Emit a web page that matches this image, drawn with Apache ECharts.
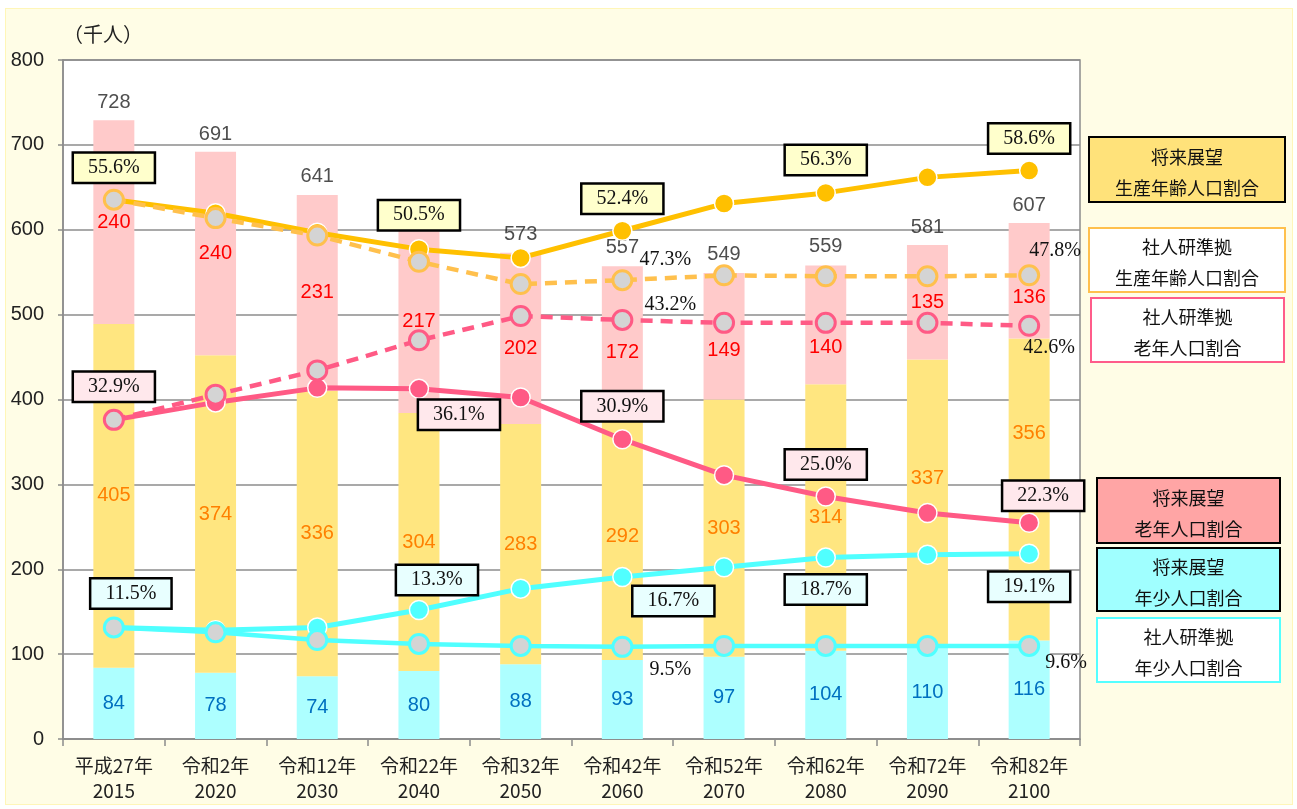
<!DOCTYPE html>
<html>
<head>
<meta charset="utf-8">
<script src="https://cdn.jsdelivr.net/npm/echarts@6/dist/echarts.min.js"></script>
<style>
html, body { margin: 0; padding: 0; background: #fff; }
#frame { position: absolute; left: 5px; top: 8px; width: 1286px; height: 795px; background: #fffde6; border: 1px solid #fff6b8; }
#main { position: absolute; left: 0; top: 0; width: 1297px; height: 809px; }
</style>
</head>
<body>
<div id="frame"></div>
<div id="main"></div>
<script>
// categories / values (千人)
var years = ['平成27年\n2015', '令和2年\n2020', '令和12年\n2030', '令和22年\n2040', '令和32年\n2050',
    '令和42年\n2060', '令和52年\n2070', '令和62年\n2080', '令和72年\n2090', '令和82年\n2100'];
var young = [84, 78, 74, 80, 88, 93, 97, 104, 110, 116];
var working = [405, 374, 336, 304, 283, 292, 303, 314, 337, 356];
var elderly = [240, 240, 231, 217, 202, 172, 149, 140, 135, 136];
var totals = [728, 691, 641, 601, 573, 557, 549, 559, 581, 607];

// ratios (%)
var workPlan = [55.6, 54.2, 52.2, 50.5, 49.6, 52.4, 55.2, 56.3, 57.9, 58.6];
var workIpss = [55.6, 53.7, 51.9, 49.2, 46.9, 47.3, 47.8, 47.7, 47.7, 47.8];
var eldPlan = [32.9, 34.7, 36.2, 36.1, 35.2, 30.9, 27.2, 25.0, 23.3, 22.3];
var eldIpss = [32.9, 35.5, 38.0, 41.1, 43.6, 43.2, 42.9, 42.9, 42.9, 42.6];
var youngPlan = [11.5, 11.2, 11.5, 13.3, 15.5, 16.7, 17.7, 18.7, 19.0, 19.1];
var youngIpss = [11.5, 11.0, 10.2, 9.8, 9.6, 9.5, 9.6, 9.6, 9.6, 9.6];

var names = ['将来展望\n生産年齢人口割合', '社人研準拠\n生産年齢人口割合', '社人研準拠\n老年人口割合',
    '将来展望\n老年人口割合', '将来展望\n年少人口割合', '社人研準拠\n年少人口割合'];

var cjk = '"Noto Sans CJK JP", sans-serif';
var serif = '"Liberation Serif", serif';
var sans = '"Liberation Sans", sans-serif';

// where the % labels sit (index -> offset from point)
var pos = {
    workPlan: {0: [0, -32], 3: [0, -34], 5: [0, -32], 7: [0, -33], 9: [0, -32]},
    eldPlan: {0: [0, -33], 3: [40, 26], 5: [0, -33], 7: [0, -32], 9: [14, -27]},
    youngPlan: {0: [17, -34], 3: [18, -30], 5: [51, 24], 7: [0, 32], 9: [0, 33]},
    workIpss: {5: [43, -20], 9: [26, -25]},
    eldIpss: {5: [48, -15], 9: [20, 22]},
    youngIpss: {5: [48, 23], 9: [37, 17]}
};
// bar labels nudged off the lines
var barShift = {
    working: {8: -24, 9: -56},
    elderly: {4: 10, 5: 13, 6: 14, 7: 23, 9: 17}
};

function pct(p) { return p.value.toFixed(1) + '%'; }

function withLabels(vals, where, boxBg) {
    return vals.map(function (v, i) {
        if (!where[i]) return v;
        var lab = {
            show: true, position: 'inside', offset: where[i], formatter: pct,
            fontFamily: serif, fontSize: 20, color: '#111'
        };
        if (boxBg) {
            lab.backgroundColor = boxBg;
            lab.borderColor = '#000';
            lab.borderWidth = 2.5;
            lab.padding = [5, 14, 3, 14];
        }
        return {value: v, label: lab};
    });
}

function planLine(name, vals, color, where, boxBg) {
    return {
        name: name, type: 'line', yAxisIndex: 1, z: 4,
        data: withLabels(vals, where, boxBg),
        symbol: 'circle', symbolSize: 19,
        lineStyle: {color: color, width: 5},
        itemStyle: {color: color, borderColor: '#fff', borderWidth: 1.5},
        label: {show: false}
    };
}

function ipssLine(name, vals, color, dashed, where) {
    return {
        name: name, type: 'line', yAxisIndex: 1, z: 5,
        data: withLabels(vals, where, null),
        symbol: 'circle', symbolSize: 19,
        lineStyle: {color: color, width: 4.5, type: dashed ? [12, 8] : 'solid'},
        itemStyle: {color: '#d4d4d4', borderColor: color, borderWidth: 3},
        label: {show: false}
    };
}

function barSeries(vals, color, labelColor, shift) {
    return {
        type: 'bar', stack: 'pop', barWidth: 41, z: 2,
        data: vals.map(function (v, i) {
            return shift && shift[i] ? {value: v, label: {offset: [0, shift[i]]}} : v;
        }),
        itemStyle: {color: color},
        label: {show: true, position: 'inside', color: labelColor, fontSize: 20, fontFamily: sans}
    };
}

// legend boxes on the right
var boxes = [
    {x: 1089, y: 137, w: 196, h: 65, fill: '#ffe27a', stroke: '#000'},
    {x: 1089, y: 228, w: 196, h: 64, fill: '#fff', stroke: '#ffc04d'},
    {x: 1091, y: 298, w: 193, h: 64, fill: '#fff', stroke: '#ff5c8a'},
    {x: 1097, y: 478, w: 183, h: 65, fill: '#ffa5a5', stroke: '#000'},
    {x: 1097, y: 548, w: 183, h: 63, fill: '#a0ffff', stroke: '#000'},
    {x: 1097, y: 618, w: 183, h: 64, fill: '#fff', stroke: '#55ffff'}
];
var legendGraphic = boxes.map(function (b, i) {
    return {
        type: 'group', x: b.x, y: b.y,
        children: [
            {type: 'rect', shape: {x: 0, y: 0, width: b.w, height: b.h},
                style: {fill: b.fill, stroke: b.stroke, lineWidth: 2}},
            {type: 'text', x: b.w / 2, y: b.h / 2 + 3,
                style: {text: names[i], align: 'center', verticalAlign: 'middle',
                    font: '18px ' + cjk, lineHeight: 31, fill: '#111'}}
        ]
    };
});

var chart = echarts.init(document.getElementById('main'));
chart.setOption({
    backgroundColor: 'transparent',
    animation: false,
    grid: {left: 63, right: 217, top: 60, bottom: 70, show: true, backgroundColor: '#fff', borderColor: '#8c8c8c', borderWidth: 1.5},
    xAxis: {
        type: 'category', data: years,
        axisLine: {lineStyle: {color: '#8c8c8c', width: 1.5}},
        axisTick: {show: true, length: 7, lineStyle: {color: '#8c8c8c', width: 1.5}},
        axisLabel: {color: '#222', fontSize: 19, fontFamily: cjk, lineHeight: 25, margin: 14}
    },
    yAxis: [{
        type: 'value', min: 0, max: 800, interval: 100,
        name: '（千人）', nameLocation: 'end', nameGap: 16,
        nameTextStyle: {color: '#222', fontSize: 20, fontFamily: cjk, align: 'left'},
        axisLine: {show: true, lineStyle: {color: '#8c8c8c', width: 1.5}},
        axisTick: {show: true, length: 5, lineStyle: {color: '#8c8c8c', width: 1.5}},
        axisLabel: {color: '#222', fontSize: 20, fontFamily: sans, margin: 19},
        splitLine: {lineStyle: {color: '#8c8c8c', width: 1.5}}
    }, {
        type: 'value', min: 0, max: 70, show: false, splitLine: {show: false}
    }],
    graphic: legendGraphic,
    series: [
        barSeries(young, '#adffff', '#0070c0'),
        barSeries(working, '#ffe680', '#ff8000', barShift.working),
        barSeries(elderly, '#ffcaca', '#ff0000', barShift.elderly),
        {
            type: 'scatter', data: totals, symbolSize: 1, z: 3,
            itemStyle: {color: 'transparent'},
            label: {show: true, position: 'top', distance: 8, color: '#222', fontSize: 20, fontFamily: sans}
        },
        planLine(names[0], workPlan, '#ffc000', pos.workPlan, '#ffffcc'),
        planLine(names[3], eldPlan, '#ff5a85', pos.eldPlan, '#ffe8ec'),
        planLine(names[4], youngPlan, '#50ffff', pos.youngPlan, '#e8ffff'),
        ipssLine(names[1], workIpss, '#ffc04d', true, pos.workIpss),
        ipssLine(names[2], eldIpss, '#ff5a85', true, pos.eldIpss),
        ipssLine(names[5], youngIpss, '#50ffff', false, pos.youngIpss)
    ]
});

window.onresize = function () {
    chart.resize();
};
</script>
</body>
</html>
